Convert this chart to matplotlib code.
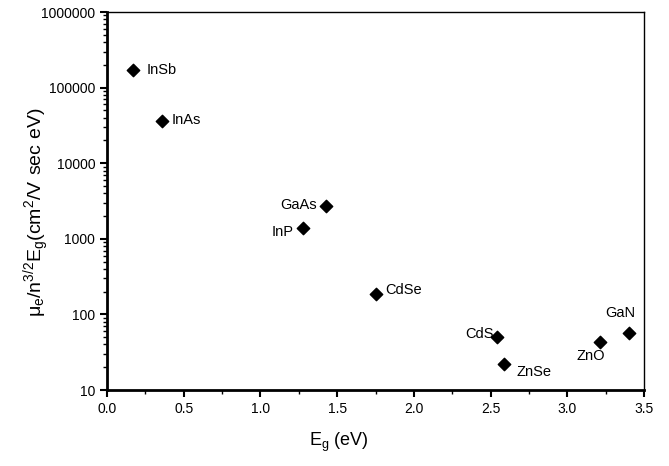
import matplotlib
matplotlib.use("Agg")
import matplotlib.pyplot as plt
from matplotlib.ticker import LogLocator, MultipleLocator, FixedLocator, FixedFormatter

plt.rcParams['font.family'] = ['Liberation Sans', 'DejaVu Sans']

materials = ["InSb", "InAs", "GaAs", "InP", "CdSe", "CdS", "ZnSe", "ZnO", "GaN"]
eg = [0.17, 0.36, 1.43, 1.28, 1.75, 2.54, 2.59, 3.21, 3.40]
mu = [171000, 36000, 2700, 1390, 186, 50, 22, 43, 56]
# label offsets in points
offsets = {"InSb": (10, 0, 'left'), "InAs": (7, 1, 'left'), "GaAs": (-7, 1, 'right'),
           "InP": (-7, -3, 'right'), "CdSe": (7, 3, 'left'), "CdS": (-2, 2, 'right'),
           "ZnSe": (9, -6, 'left'), "ZnO": (-6, -10, 'center'), "GaN": (-6, 15, 'center')}

yticks = [10, 100, 1000, 10000, 100000, 1000000]
ytick_labels = ["10", "100", "1000", "10000", "100000", "1000000"]
xticks = [0.0, 0.5, 1.0, 1.5, 2.0, 2.5, 3.0, 3.5]
xtick_labels = ["0.0", "0.5", "1.0", "1.5", "2.0", "2.5", "3.0", "3.5"]

fig = plt.figure(figsize=(6.69, 4.66), dpi=100)
ax = fig.add_axes([107/669, 1 - 390/466, (644-107)/669, (390-12)/466])
ax.scatter(eg, mu, marker='D', s=40, color='black', zorder=3)
for m, x, y in zip(materials, eg, mu):
    dx, dy, ha = offsets[m]
    ax.annotate(m, (x, y), xytext=(dx, dy), textcoords='offset points',
                ha=ha, va='center', fontsize=10.5)

ax.set_yscale('log')
ax.set_xlim(0, 3.5)
ax.set_ylim(10, 1e6)
ax.yaxis.set_major_locator(FixedLocator(yticks))
ax.yaxis.set_major_formatter(FixedFormatter(ytick_labels))
ax.yaxis.set_minor_locator(LogLocator(base=10, subs=range(2, 10)))
ax.xaxis.set_major_locator(FixedLocator(xticks))
ax.xaxis.set_major_formatter(FixedFormatter(xtick_labels))
ax.xaxis.set_minor_locator(MultipleLocator(0.25))
ax.tick_params(which='major', direction='out', length=5, width=1.5, labelsize=10)
ax.tick_params(which='minor', direction='out', length=3, width=1)
ax.tick_params(axis='y', which='minor', labelleft=False)
for s in ['left', 'bottom']:
    ax.spines[s].set_linewidth(2)
for s in ['top', 'right']:
    ax.spines[s].set_linewidth(1)

ax.set_xlabel(r"E$_\mathregular{g}$ (eV)", fontsize=13)
ax.xaxis.set_label_coords((339-107)/537, -(431-390)/378)
ax.set_ylabel(r"$\mathregular{\mu_e/n^{3/2}E_g(cm^2/V\ sec\ eV)}$", fontsize=14)
ax.yaxis.set_label_coords(-(107-52)/537, (390-212)/378)

fig.savefig("out.png", dpi=100)
